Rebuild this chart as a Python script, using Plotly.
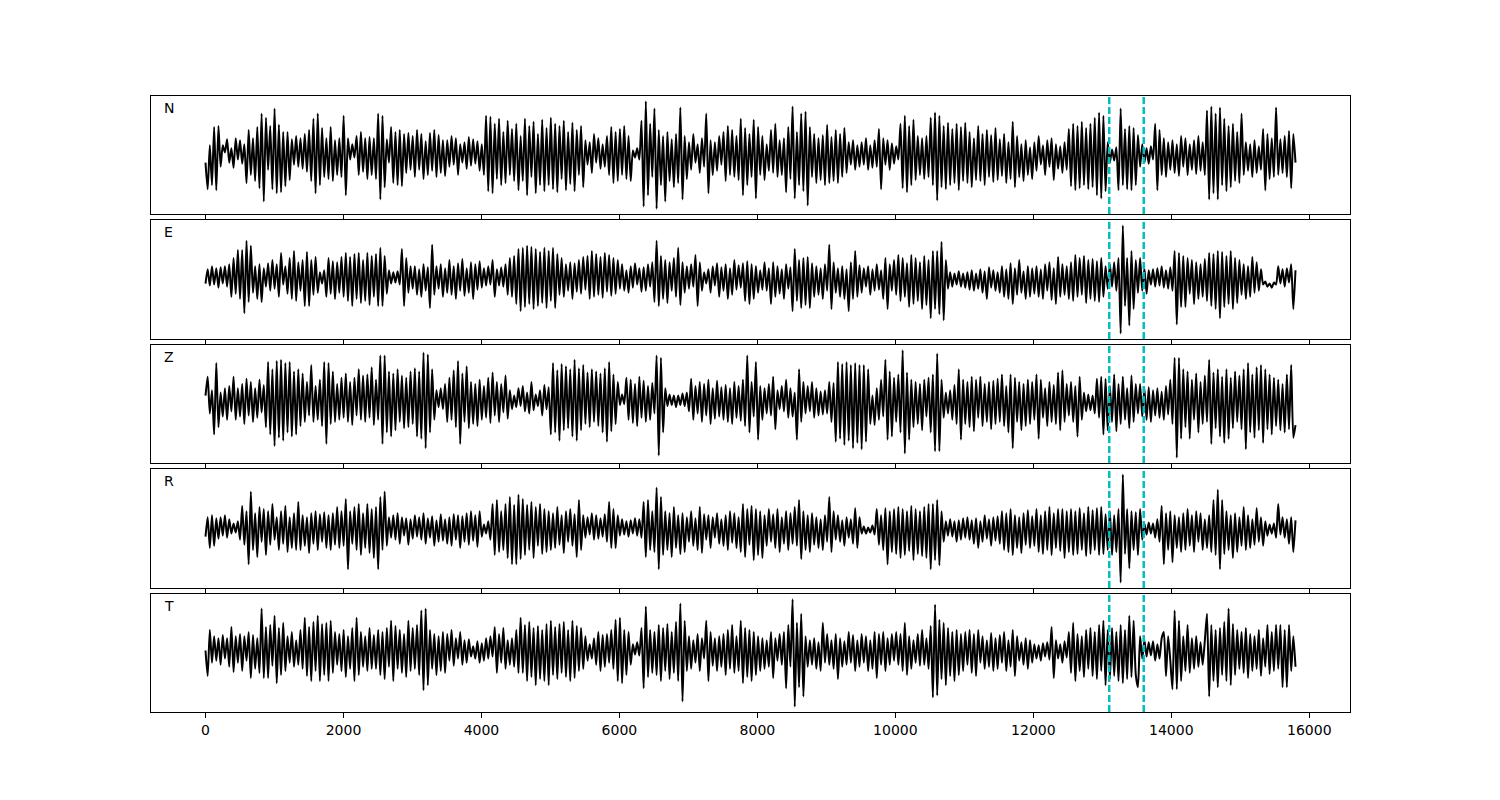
import numpy as np
import plotly.graph_objects as go

# ---------------- data (amplitudes, approx. pixel units) ----------------
component_names = ["N", "E", "Z", "R", "T"]
t_start = 0
t_end = 15800
pick_times = [13100, 13600]
x_ticks = [0, 2000, 4000, 6000, 8000, 10000, 12000, 14000, 16000]
x_range = [-790, 16590]

N_vals = [
    -8, -34, 9, -30, 27, -35, 28, -12, 9, 2, 15, -8, 6, -13, 16, -5,
    14, -9, 10, -28, 24, -20, 16, -26, 27, -33, 40, -46, 36, -15, 28, -34,
    45, -38, 29, -37, 22, -31, 22, -25, 15, -10, 18, -12, 16, -14, 20, -17,
    24, -26, 35, -38, 40, -30, 26, -22, 16, -24, 27, -26, 14, -20, 16, -22,
    38, -40, 16, -5, 10, -3, 18, -20, 22, -17, 16, -24, 17, -20, 16, -24,
    40, -44, 38, -32, 15, -8, 27, -28, 22, -30, 24, -31, 20, -18, 21, -15,
    18, -22, 24, -15, 20, -24, 13, -20, 21, -16, 24, -22, 19, -18, 14, -21,
    14, -12, 18, -10, 16, -20, 10, -8, 12, -14, 17, -11, 15, -9, 13, -16,
    10, -20, 38, -36, 37, -38, 30, -24, 35, -30, 22, -28, 33, -20, 25, -26,
    30, -35, 18, -26, 35, -40, 28, -22, 32, -38, 20, -30, 34, -36, 26, -30,
    36, -34, 30, -37, 28, -24, 33, -35, 22, -29, 31, -36, 24, -20, 28, -32,
    14, -10, 12, -18, 20, -8, 16, -14, 10, -12, 18, -20, 27, -28, 22, -26,
    25, -20, 28, -24, 18, -26, 4, -3, 6, -5, 33, -51, 52, -40, 30, -22,
    45, -53, 24, -30, 18, -46, 22, -26, 15, -32, 20, -28, 46, -44, 18, -24,
    12, -15, 20, -8, 10, -18, 16, -12, 40, -38, 14, -20, 12, -16, 18, -10,
    22, -26, 28, -20, 24, -22, 18, -25, 35, -40, 26, -30, 20, -22, 34, -43,
    27, -20, 18, -25, 10, -16, 24, -18, 30, -22, 14, -20, 16, -37, 27, -24,
    47, -43, 22, -30, 40, -36, 42, -50, 27, -22, 20, -28, 16, -25, 19, -30,
    29, -28, 17, -26, 24, -28, 20, -22, 26, -18, 12, -10, 14, -15, 9, -12,
    12, -10, 16, -15, 9, -13, 14, -12, 25, -34, 16, -10, 14, -15, 11, -9,
    8, -5, 30, -33, 38, -37, 28, -30, 34, -25, 18, -20, 16, -24, 18, -22,
    36, -30, 41, -45, 38, -32, 28, -34, 31, -30, 25, -28, 30, -35, 27, -26,
    31, -28, 22, -32, 16, -25, 28, -26, 20, -30, 24, -22, 19, -27, 26, -25,
    15, -21, 20, -28, 12, -24, 32, -32, 18, -22, 10, -26, 14, -20, 7, -24,
    12, -16, 18, -10, 9, -20, 14, -12, 16, -25, 10, -14, 8, -18, 12, -15,
    25, -31, 30, -35, 28, -33, 32, -30, 26, -34, 30, -32, 36, -40, 41, -43,
    38, -36, 12, -8, 5, -6, 7, -35, 45, -30, 25, -34, 28, -35, 26, -30,
    19, -12, 10, -8, 6, -9, 8, -5, 30, -35, 24, -20, 16, -22, 12, -15,
    14, -18, 10, -21, 18, -12, 16, -20, 10, -15, 14, -19, 18, -16, 12, -20,
    43, -44, 47, -38, 40, -44, 46, -30, 35, -36, 28, -32, 30, -26, 22, -28,
    40, -20, 12, -16, 10, -22, 14, -18, 8, -15, 25, -35, 20, -24, 16, -22,
    46, -20, 15, -18, 18, -22, 23, -33, 20, -8,
]

E_vals = [
    -5, 9, -7, 12, -6, 10, -9, 11, -5, 12, -8, 14, -18, 20, -15, 28,
    -20, 28, -34, 37, -23, 32, -14, 12, -20, 14, -23, 10, -8, 15, -12, 18,
    -10, 14, -18, 25, -6, 12, -15, 20, -20, 27, -22, 16, -12, 18, -27, 26,
    -27, 18, -16, 21, -14, 6, -5, 8, -18, 20, -15, 17, -20, 16, -14, 21,
    -18, 25, -22, 21, -27, 24, -20, 25, -24, 18, -22, 25, -26, 22, -18, 24,
    -27, 30, -27, 22, -15, 8, -5, 6, -4, 7, -6, 29, -27, 20, -14, 12,
    -10, 12, -16, 9, -18, 14, -12, 11, -29, 33, -16, 12, -10, 14, -18, 10,
    -14, 18, -16, 12, -20, 15, -12, 19, -17, 10, -14, 16, -20, 14, -11, 17,
    -9, 10, -7, 12, -6, 18, -18, 9, -7, 11, -8, 14, -16, 20, -18, 22,
    -25, 29, -32, 30, -28, 32, -25, 31, -30, 29, -27, 26, -24, 30, -29, 27,
    -22, 30, -29, 24, -16, 20, -18, 14, -12, 16, -20, 15, -13, 18, -15, 21,
    -11, 22, -20, 27, -18, 24, -16, 21, -19, 25, -13, 23, -17, 20, -15, 18,
    -10, 14, -12, 8, -14, 12, -9, 15, -6, 10, -13, 11, -12, 14, -8, 16,
    -23, 37, -27, 22, -20, 18, -24, 16, -12, 20, -18, 30, -26, 16, -14, 12,
    -10, 14, -8, 23, -27, 16, -12, 6, -5, 9, -14, 12, -7, 15, -18, 11,
    -12, 14, -20, 10, -16, 18, -11, 13, -9, 15, -22, 17, -25, 14, -20, 12,
    -14, 8, -11, 16, -12, 10, -25, 16, -18, 12, -15, 9, -20, 14, -10, 11,
    -32, 29, -22, 18, -29, 20, -26, 21, -29, 15, -18, 12, -16, 10, -20, 14,
    -12, 33, -30, 16, -14, 10, -18, 12, -20, 9, -32, 16, -20, 27, -18, 13,
    -14, 10, -8, 12, -16, 9, -12, 14, -11, 8, -20, 20, -30, 14, -12, 18,
    -16, 23, -22, 20, -18, 15, -28, 23, -25, 20, -22, 16, -30, 22, -26, 18,
    -39, 27, -30, 27, -35, 36, -41, 18, -10, 6, -8, 5, -6, 7, -8, 5,
    -9, 6, -11, 8, -12, 5, -10, 9, -14, 7, -20, 11, -9, 8, -12, 6,
    -14, 12, -18, 9, -20, 15, -25, 10, -16, 18, -14, 7, -20, 12, -18, 10,
    -15, 12, -18, 9, -20, 14, -12, 16, -21, 10, -25, 21, -18, 14, -16, 12,
    -20, 16, -22, 23, -18, 20, -16, 22, -24, 18, -20, 19, -22, 17, -23, 20,
    -18, 12, -10, 14, -8, 16, -12, 20, -54, 52, -27, 20, -46, 27, -30, 18,
    -14, 20, -12, 10, -15, 8, -6, 9, -8, 10, -7, 12, -9, 8, -10, 11,
    -12, 27, -45, 25, -28, 22, -28, 20, -15, 18, -25, 16, -20, 14, -18, 19,
    -22, 25, -27, 24, -30, 27, -39, 26, -28, 22, -25, 27, -30, 20, -24, 18,
    -16, 14, -20, 12, -18, 21, -14, 16, -12, 9, -6, -3, -8, -5, -9, -4,
    -6, 12, -5, 9, -8, 10, -4, 14, -30, 8,
]

Z_vals = [
    5, 23, -12, 10, -32, 36, -25, 8, -15, 12, -18, 14, -10, 23, -18, 12,
    -15, 16, -22, 21, -14, 18, -20, 12, -16, 20, -11, 15, -25, 37, -32, 30,
    -43, 38, -35, 39, -38, 36, -30, 37, -34, 28, -32, 30, -24, 26, -20, 18,
    -14, 34, -20, 14, -18, 20, -24, 37, -41, 36, -22, 28, -20, 16, -18, 22,
    -16, 26, -20, 18, -23, 22, -14, 30, -18, 24, -20, 25, -16, 32, -23, 20,
    -18, 43, -41, 43, -30, 28, -34, 26, -28, 30, -20, 24, -26, 22, -25, 28,
    -22, 31, -34, 28, -36, 46, -45, 44, -30, 30, -18, 10, -6, 12, -8, 16,
    -20, 22, -18, 29, -25, 38, -41, 26, -20, 33, -26, 18, -22, 16, -24, 20,
    -18, 14, -16, 22, -21, 27, -14, 18, -20, 16, -11, 24, -17, 10, -8, 5,
    -6, 12, -5, 14, -10, 8, -12, 18, -9, 6, -5, 10, -14, 15, -8, 13,
    -32, 36, -30, 29, -38, 35, -28, 33, -26, 30, -34, 39, -38, 31, -28, 34,
    -22, 27, -25, 30, -20, 28, -24, 26, -30, 31, -39, 37, -29, 25, -22, 18,
    -4, 6, -3, 22, -18, 20, -21, 16, -24, 23, -16, 19, -20, 14, -18, 17,
    -12, 43, -52, 41, -30, 12, -5, 6, -4, 5, -6, 5, -4, 7, -5, 8,
    -10, 21, -18, 14, -12, 18, -20, 16, -14, 20, -22, 12, -17, 19, -15, 13,
    -18, 15, -20, 12, -22, 18, -16, 14, -19, 20, -24, 43, -30, 18, -15, 37,
    -37, 14, -18, 12, -12, 16, -14, 23, -27, 10, -8, 14, -10, 20, -16, 12,
    -15, 8, -37, 30, -20, 18, -12, 14, -10, 18, -16, 12, -14, 9, -13, 10,
    -12, 18, -20, 17, -39, 37, -36, 35, -42, 37, -38, 34, -45, 36, -40, 34,
    -46, 34, -39, 30, -22, 5, -23, 12, -18, 20, -15, 39, -37, 28, -34, 22,
    -20, 25, -30, 48, -50, 27, -37, 20, -25, 18, -22, 16, -28, 20, -15, 22,
    -30, 25, -48, 45, -48, 20, -16, 8, -12, 10, -18, 15, -22, 30, -37, 20,
    -22, 18, -25, 23, -29, 20, -16, 23, -24, 16, -20, 18, -27, 19, -22, 21,
    -20, 25, -24, 14, -30, 25, -45, 22, -20, 18, -28, 16, -24, 20, -22, 18,
    -18, 25, -36, 20, -16, 12, -24, 18, -20, 15, -22, 27, -28, 29, -20, 16,
    -14, 18, -20, 14, -34, 23, -18, 8, -10, 6, -9, 5, -12, 21, -16, 23,
    -32, 21, -28, 14, -20, 25, -29, 16, -22, 23, -18, 12, -26, 24, -20, 16,
    -12, 16, -15, 12, -18, 13, -20, 10, -14, 12, -16, 9, -18, 14, -13, 20,
    -22, 41, -54, 41, -36, 30, -25, 28, -36, 20, -18, 26, -30, 18, -22, 24,
    -20, 39, -41, 27, -26, 30, -34, 23, -40, 30, -36, 22, -26, 28, -20, 24,
    -27, 30, -46, 36, -30, 25, -35, 32, -28, 34, -40, 30, -27, 25, -32, 22,
    -24, 20, -28, 16, -30, 25, -27, 34, -35, -23,
]

R_vals = [
    -7, 12, -18, 14, -16, 11, -9, 12, -6, 14, -8, 10, -4, 6, -3, 8,
    -10, 23, -15, 18, -34, 37, -20, 16, -27, 22, -12, 20, -25, 18, -15, 25,
    -10, 12, -20, 18, -14, 23, -22, 12, -18, 16, -20, 27, -20, 14, -16, 12,
    -23, 16, -14, 18, -20, 15, -12, 17, -18, 14, -20, 16, -15, 22, -18, 18,
    -16, 30, -39, 18, -14, 22, -20, 25, -25, 16, -18, 25, -23, 20, -28, 22,
    -39, 32, -20, 37, -16, 12, -8, 14, -10, 16, -14, 12, -6, 11, -15, 10,
    -9, 14, -7, 12, -10, 16, -14, 11, -8, 13, -16, 9, -12, 15, -11, 10,
    -14, 12, -16, 15, -10, 14, -18, 13, -12, 16, -15, 18, -11, 14, -17, 18,
    -7, 5, -4, 8, -10, 25, -25, 29, -22, 18, -20, 25, -28, 32, -34, 24,
    -34, 34, -29, 30, -25, 24, -20, 27, -28, 22, -16, 25, -24, 20, -22, 18,
    -20, 16, -18, 22, -15, 14, -23, 18, -12, 20, -16, 15, -27, 29, -20, 14,
    -8, 12, -5, 16, -10, 14, -9, 11, -7, 15, -12, 27, -18, 20, -18, 14,
    -6, 10, -5, 8, -7, 9, -4, 11, -6, 10, -8, 27, -27, 29, -20, 18,
    -22, 41, -39, 32, -25, 18, -20, 16, -27, 22, -18, 14, -24, 16, -22, 12,
    -12, 18, -16, 11, -20, 22, -23, 15, -10, 14, -18, 12, -8, 16, -14, 10,
    -16, 14, -20, 18, -13, 16, -18, 12, -22, 25, -27, 20, -15, 23, -30, 20,
    -25, 18, -28, 14, -16, 20, -12, 15, -18, 20, -22, 12, -14, 18, -20, 16,
    -14, 22, -16, 29, -29, 18, -20, 14, -22, 16, -15, 12, -18, 10, -20, 14,
    -12, 32, -22, 18, -10, 14, -12, 9, -16, 12, -8, 10, -14, 21, -18, 12,
    -4, 3, -4, 2, -3, 4, -5, 20, -15, 14, -20, 21, -34, 18, -22, 20,
    -24, 22, -28, 20, -25, 18, -21, 23, -30, 20, -24, 18, -26, 22, -28, 25,
    -39, 25, -30, 29, -35, 18, -12, 8, -6, 10, -7, 8, -12, 9, -10, 11,
    -8, 12, -10, 9, -14, 11, -18, 8, -12, 14, -9, 10, -16, 12, -11, 13,
    -14, 18, -20, 16, -22, 20, -25, 14, -18, 12, -23, 16, -15, 19, -18, 13,
    -16, 20, -22, 14, -24, 18, -20, 22, -25, 16, -18, 20, -21, 20, -28, 18,
    -22, 20, -25, 18, -24, 21, -20, 16, -26, 22, -24, 19, -20, 21, -25, 22,
    -24, 15, -20, 18, -25, 14, -22, 20, -52, 54, -24, 20, -38, 18, -20, 17,
    -25, 20, -10, 6, -5, 7, -4, 6, -8, 10, -12, 23, -34, 16, -20, 18,
    -32, 14, -18, 12, -22, 16, -20, 20, -16, 14, -22, 18, -12, 16, -20, 10,
    -18, 14, -22, 29, -25, 39, -39, 29, -24, 18, -20, 14, -28, 16, -22, 12,
    -16, 22, -20, 14, -18, 10, -15, 21, -12, 12, -16, 8, -6, 5, -4, 6,
    -8, 25, -5, 12, -8, 10, -14, 12, -22, 9,
]

T_vals = [
    0, -25, 20, -12, 14, -10, 12, -14, 15, -8, 12, -16, 23, -21, 14, -12,
    16, -20, 14, -10, 18, -27, 15, -18, 12, -22, 41, -27, 23, -27, 25, -15,
    34, -32, 22, -24, 27, -20, 14, -12, 18, -16, 10, -14, 20, -18, 32, -25,
    23, -30, 28, -20, 34, -30, 26, -24, 27, -30, 29, -22, 18, -14, 16, -20,
    20, -26, 14, -18, 22, -30, 32, -24, 18, -16, 14, -20, 22, -18, 15, -18,
    20, -24, 18, -28, 22, -16, 29, -30, 24, -18, 20, -22, 16, -26, 29, -20,
    22, -18, 25, -24, 39, -39, 41, -34, 20, -18, 16, -24, 14, -20, 18, -22,
    16, -10, 20, -15, 12, -8, 18, -14, 10, -12, 11, -6, 4, -8, 9, -12,
    7, -10, 12, -8, 14, -6, 23, -22, 16, -12, 22, -18, 10, -14, 12, -16,
    20, -22, 32, -22, 25, -30, 28, -26, 22, -34, 24, -28, 20, -30, 26, -34,
    29, -24, 23, -28, 26, -22, 28, -26, 20, -30, 29, -27, 24, -20, 22, -18,
    14, -10, 6, -8, 12, -14, 18, -20, 15, -16, 16, -12, 20, -18, 30, -30,
    32, -32, 20, -24, 18, -14, 6, -4, 8, -5, 22, -37, 43, -26, 20, -22,
    18, -24, 25, -30, 22, -20, 26, -28, 18, -22, 28, -30, 46, -50, 29, -20,
    14, -18, 10, -12, 16, -20, 12, -8, 29, -30, 18, -15, 12, -20, 14, -16,
    16, -24, 20, -18, 25, -22, 14, -20, 29, -32, 22, -26, 20, -30, 18, -24,
    14, -20, 12, -18, 10, -16, 18, -27, 12, -10, 16, -14, 18, -37, 25, -16,
    50, -55, 27, -36, 36, -45, 14, -16, 10, -14, 12, -18, 8, -20, 27, -12,
    16, -14, 10, -18, 16, -28, 12, -16, 9, -14, 18, -12, 15, -20, 10, -16,
    16, -12, 14, -20, 10, -18, 18, -27, 16, -14, 18, -20, 12, -14, 16, -10,
    18, -14, 16, -20, 27, -24, 14, -18, 10, -12, 16, -15, 20, -14, 12, -18,
    24, -46, 45, -44, 30, -28, 27, -34, 22, -25, 18, -30, 20, -24, 16, -20,
    18, -14, 20, -22, 16, -25, 20, -12, 14, -18, 10, -16, 17, -20, 12, -18,
    15, -12, 18, -20, 10, -16, 20, -25, 14, -10, 8, -14, 12, -18, 10, -12,
    6, -8, 5, -10, 7, -6, 8, -9, 23, -27, 10, -8, 6, -12, 9, -7,
    18, -22, 27, -30, 16, -20, 14, -26, 20, -18, 22, -25, 18, -28, 25, -20,
    29, -34, 20, -28, 22, -25, 18, -30, 25, -32, 20, -28, 34, -26, 29, -24,
    -36, 14, -8, 10, -6, 8, -5, 9, -10, 6, -8, 12, 18, -25, 14, -10,
    -38, 39, -38, 29, -30, 14, -20, 25, -22, 12, -18, 14, -16, 8, -14, 10,
    36, -45, 25, -30, 20, -36, 22, -24, 28, -30, 41, -34, 26, -24, 20, -18,
    18, -22, 22, -27, 16, -20, 14, -18, 20, -25, 12, -16, 25, -23, 18, -20,
    25, -18, 25, -36, 20, -36, 25, -20, 14, -16,
]

series = [N_vals, E_vals, Z_vals, R_vals, T_vals]

# ---------------- layout geometry (paper fractions, 1500x800) ----------------
W, H = 1500, 800
panel_px = [(96, 214), (220, 339), (345, 463), (469, 588), (594, 712)]
x_dom = [151 / W, 1350 / W]

fig = go.Figure()
layout = dict(
    width=W, height=H,
    margin=dict(l=0, r=0, t=0, b=0),
    paper_bgcolor="white", plot_bgcolor="white",
    showlegend=False,
    font=dict(family="DejaVu Sans", size=14, color="black"),
)

shapes = []
annotations = []
for i, (name, vals) in enumerate(zip(component_names, series)):
    sfx = "" if i == 0 else str(i + 1)
    vals = np.asarray(vals, dtype=float)
    t = np.linspace(t_start, t_end, len(vals))
    fig.add_trace(go.Scatter(
        x=t, y=vals, mode="lines",
        line=dict(color="black", width=2, shape="spline", smoothing=0.6),
        xaxis="x" + sfx, yaxis="y" + sfx, hoverinfo="skip",
    ))
    top, bot = panel_px[i]
    ydom = [1 - bot / H, 1 - top / H]
    vmin, vmax = vals.min(), vals.max()
    pad = 0.05 * (vmax - vmin)
    layout["xaxis" + sfx] = dict(
        domain=x_dom, anchor="y" + sfx, range=x_range,
        showline=True, mirror=True, linecolor="black", linewidth=1,
        ticks="outside", ticklen=5, tickwidth=1, tickcolor="black",
        tickvals=x_ticks, ticktext=[str(v) for v in x_ticks],
        showticklabels=(i == len(series) - 1),
        showgrid=False, zeroline=False,
        tickfont=dict(family="DejaVu Sans", size=14, color="black"),
    )
    layout["yaxis" + sfx] = dict(
        domain=ydom, anchor="x" + sfx, range=[vmin - pad, vmax + pad],
        showline=True, mirror=True, linecolor="black", linewidth=1,
        showticklabels=False, ticks="", showgrid=False, zeroline=False,
    )
    for p in pick_times:
        shapes.append(dict(
            type="line", xref="x" + sfx, yref="y" + sfx + " domain",
            x0=p, x1=p, y0=0, y1=1,
            line=dict(color="#00BFBF", width=2.5, dash="7px,3px"),
            layer="above",
        ))
    annotations.append(dict(
        text=name, xref="paper", yref="paper",
        x=162 / W, y=1 - (top + 12) / H, xanchor="left", yanchor="middle",
        showarrow=False, font=dict(family="DejaVu Sans", size=14, color="black"),
    ))

layout["shapes"] = shapes
layout["annotations"] = annotations
fig.update_layout(**layout)
fig.write_html(
    "out.html",
    config={"displayModeBar": False},
    post_script="document.body.style.margin='0';document.body.style.overflow='hidden';",
)
